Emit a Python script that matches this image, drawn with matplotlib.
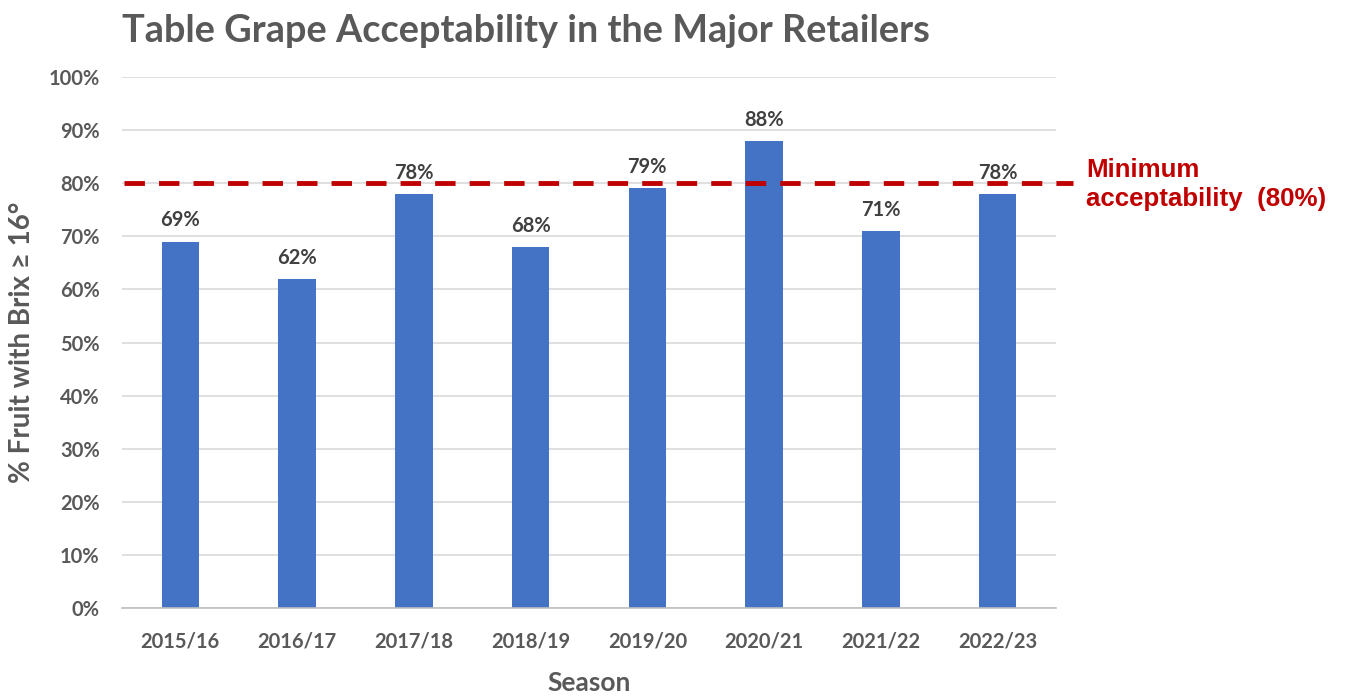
import matplotlib
matplotlib.use("Agg")
import matplotlib.pyplot as plt
from matplotlib.ticker import PercentFormatter

seasons = ["2015/16", "2016/17", "2017/18", "2018/19", "2019/20", "2020/21", "2021/22", "2022/23"]
acceptability = [69, 62, 78, 68, 79, 88, 71, 78]
threshold = 80

gray = "#595959"
bar_color = "#4472C4"
red = "#C00000"
font = ["Lato", "DejaVu Sans"]

plt.rcParams["font.family"] = font

fig = plt.figure(figsize=(13.49, 6.96), dpi=100)
ax = fig.add_axes([0.0904, 0.1264, 0.6924, 0.763])

x = range(len(seasons))
bars = ax.bar(x, acceptability, width=0.32, color=bar_color, zorder=2)

ax.set_xlim(-0.5, len(seasons) - 0.5)
ax.set_ylim(0, 100)
ax.set_yticks(range(0, 101, 10))
ax.yaxis.set_major_formatter(PercentFormatter(decimals=0))
ax.set_xticks(list(x))
ax.set_xticklabels(seasons)

ax.grid(axis="y", color="#D9D9D9", linewidth=1.2, zorder=0)
for side in ("top", "right", "left"):
    ax.spines[side].set_visible(False)
ax.spines["bottom"].set_color("#BFBFBF")
ax.spines["bottom"].set_linewidth(1.2)
ax.tick_params(axis="both", length=0, colors=gray, labelsize=14.5)
ax.tick_params(axis="y", pad=16)
ax.tick_params(axis="x", pad=17)
for lbl in ax.get_xticklabels() + ax.get_yticklabels():
    lbl.set_fontweight("bold")

for b, v in zip(bars, acceptability):
    ax.annotate(f"{v}%", (b.get_x() + b.get_width() / 2, v),
                xytext=(0, 8), textcoords="offset points",
                ha="center", va="bottom", fontsize=14.5, fontweight="bold",
                color="#404040", zorder=4)

# Minimum acceptability reference line, extending slightly past the plot
ax.plot([0.002, 1.018], [threshold, threshold],
        transform=ax.get_yaxis_transform(), clip_on=False,
        color=red, linewidth=3.5, dashes=(4.2, 2.9), zorder=3)
ax.text(1.032, threshold - 0.3, "Minimum\nacceptability  (80%)",
        transform=ax.get_yaxis_transform(), ha="left", va="center",
        fontsize=18.6, fontweight="bold", color=red,
        family=["Liberation Sans", "DejaVu Sans"], linespacing=1.25)

ax.set_xlabel("Season", fontsize=19, fontweight="bold", color=gray, labelpad=14)
ax.set_ylabel("% Fruit with Brix \u2265 16\u00b0", fontsize=20, fontweight="bold",
              color=gray, labelpad=10)

fig.text(0.0905, 0.955, "Table Grape Acceptability in the Major Retailers",
         ha="left", va="center", fontsize=27.3, fontweight="bold", color=gray)

fig.savefig("out.png", dpi=100)
